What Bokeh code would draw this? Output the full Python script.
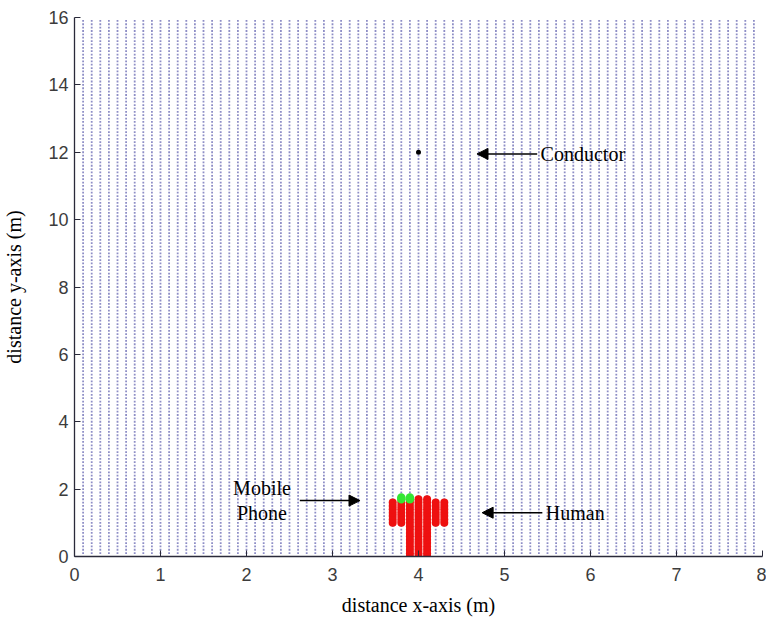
import numpy as np
from bokeh.plotting import figure
from bokeh.models import Range1d, FixedTicker, Arrow, NormalHead, Label, ColumnDataSource
from bokeh.embed import file_html
from bokeh.resources import INLINE

# ---- data ----
x_ticks = [0, 1, 2, 3, 4, 5, 6, 7, 8]
y_ticks = [0, 2, 4, 6, 8, 10, 12, 14, 16]

# computational mesh (node spacing in metres)
mesh_x_start, mesh_x_stop, mesh_dx = 0.1, 7.9, 0.1
mesh_y_start, mesh_y_stop, mesh_dy = 0.1, 15.9, 0.1

# human body: columns of mesh cells (x) with lowest / highest occupied node
human_col_x = [3.7, 3.8, 3.9, 4.0, 4.1, 4.2, 4.3]
human_col_ybot = [1.0, 1.0, 0.0, 0.0, 0.0, 1.0, 1.0]
human_col_ytop = [1.6, 1.6, 1.7, 1.7, 1.7, 1.6, 1.6]

# mobile phone nodes
phone_x = [3.8, 3.9, 3.8, 3.9]
phone_y = [1.7, 1.7, 1.75, 1.75]

# conductor
conductor_x = [4.0]
conductor_y = [12.0]

# ---- build point sets ----
mx = np.round(np.arange(mesh_x_start, mesh_x_stop + 1e-9, mesh_dx), 3)
my = np.round(np.arange(mesh_y_start, mesh_y_stop + 1e-9, mesh_dy), 3)
MX, MY = np.meshgrid(mx, my)
mesh_src = ColumnDataSource(dict(x=MX.ravel(), y=MY.ravel()))

hx, hy = [], []
for cx, yb, yt in zip(human_col_x, human_col_ybot, human_col_ytop):
    ys = np.round(np.arange(yb, yt + 1e-9, mesh_dy), 3)
    hx.extend([cx] * len(ys))
    hy.extend(ys.tolist())
human_src = ColumnDataSource(dict(x=hx, y=hy))

p = figure(width=766, height=618, output_backend="svg", toolbar_location=None,
           x_range=Range1d(0, 8), y_range=Range1d(0, 16),
           min_border_left=74, min_border_right=4, min_border_top=17, min_border_bottom=61)

p.outline_line_color = None
p.xgrid.visible = False
p.ygrid.visible = False
p.background_fill_color = "white"

p.scatter("x", "y", source=mesh_src, marker="square", size=1.8,
          fill_color="#8e8ec6", line_color=None)
p.scatter("x", "y", source=human_src, marker="circle", size=8,
          fill_color="#ee1010", line_color=None)
p.scatter(phone_x, phone_y, marker="circle", size=8.5,
          fill_color="#33e633", line_color=None)
p.scatter(conductor_x, conductor_y, marker="circle", size=5,
          fill_color="black", line_color=None)

for ax in (p.xaxis[0], p.yaxis[0]):
    ax.axis_line_color = "#2a2a3a"
    ax.axis_line_width = 1.3
    ax.major_tick_line_color = "#2a2a3a"
    ax.major_tick_in = 6
    ax.major_tick_out = 0
    ax.minor_tick_line_color = None
    ax.major_label_text_font = "Liberation Sans"
    ax.major_label_text_font_size = "18px"
    ax.major_label_text_color = "#3c3c3c"
    ax.axis_label_text_font = "Liberation Serif"
    ax.axis_label_text_font_size = "20px"
    ax.axis_label_text_font_style = "normal"
    ax.axis_label_text_color = "black"

p.xaxis.ticker = FixedTicker(ticks=x_ticks)
p.yaxis.ticker = FixedTicker(ticks=y_ticks)
p.xaxis.axis_label = "distance x-axis (m)"
p.yaxis.axis_label = "distance y-axis (m)"
p.xaxis.major_label_standoff = 11
p.yaxis.major_label_standoff = 6
p.xaxis.axis_label_standoff = 10
p.yaxis.axis_label_standoff = 20

def arrow(x0, x1, y):
    p.add_layout(Arrow(end=NormalHead(size=11, fill_color="black", line_color="black"),
                       x_start=x0, y_start=y, x_end=x1, y_end=y,
                       line_color="black", line_width=1.5))

def label(x, y, t, align="left"):
    p.add_layout(Label(x=x, y=y, text=t, text_font="Liberation Serif",
                       text_font_size="20px", text_color="black",
                       text_align=align, text_baseline="middle"))

arrow(5.38, 4.68, 11.95)
label(5.42, 11.95, "Conductor")

arrow(5.44, 4.74, 1.30)
label(5.48, 1.30, "Human")

arrow(2.62, 3.32, 1.66)
label(2.18, 2.04, "Mobile", "center")
label(2.18, 1.30, "Phone", "center")

open("out.html", "w").write(file_html(p, INLINE))
